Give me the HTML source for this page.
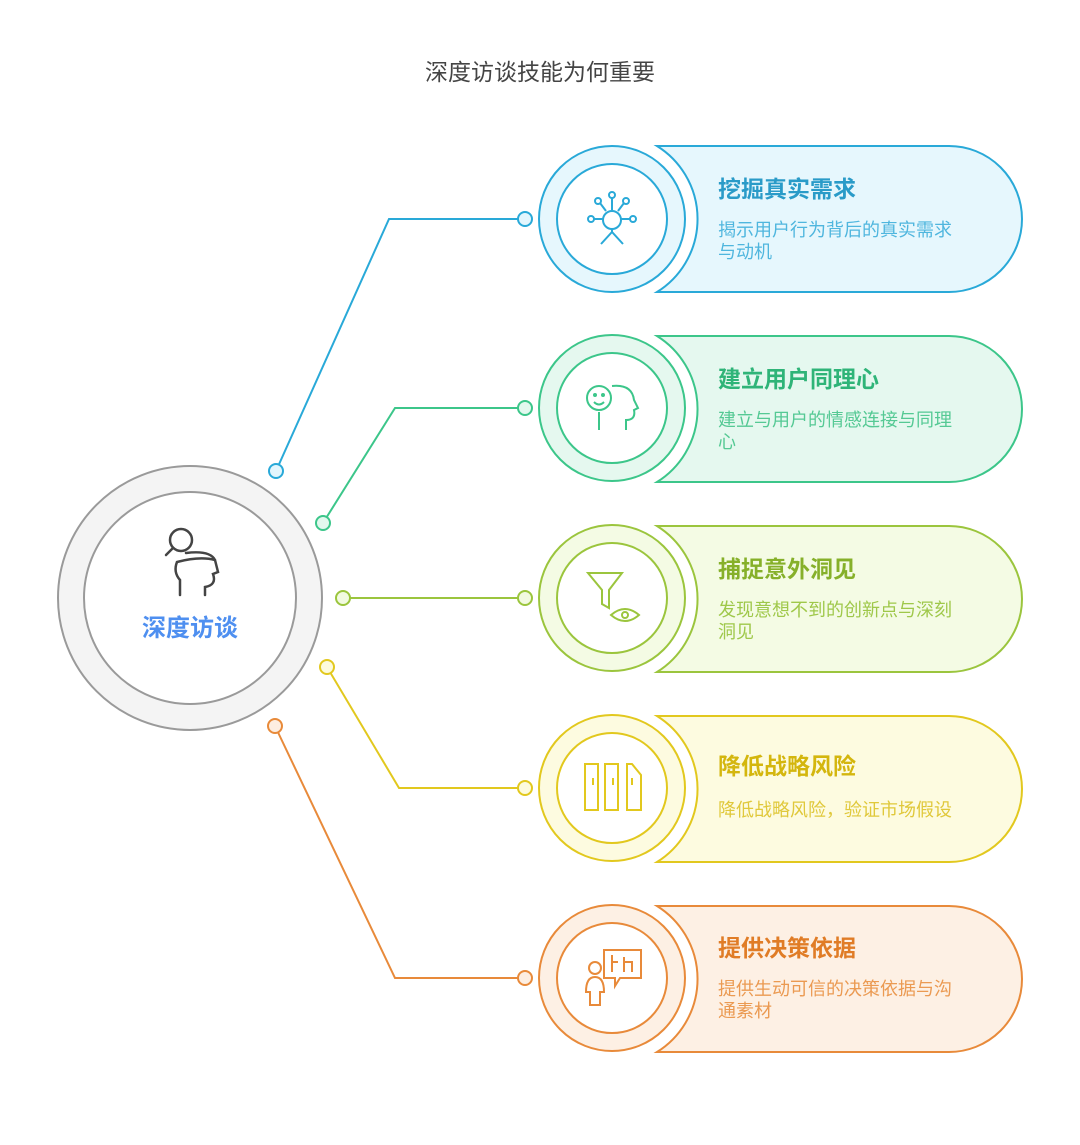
<!DOCTYPE html>
<html><head><meta charset="utf-8"><style>
body{margin:0;background:#fff}
svg{display:block}
text{font-family:"Liberation Sans","Noto Sans CJK SC",sans-serif}
</style></head><body>
<svg width="1080" height="1145" viewBox="0 0 1080 1145" xmlns="http://www.w3.org/2000/svg">
<text x="540" y="80" text-anchor="middle" font-size="23" fill="#444">深度访谈技能为何重要</text>

<g fill="none" stroke-width="2">
<polyline points="276,471 389,219 525,219" stroke="#29a9d8"/>
<polyline points="323,523 395,408 525,408" stroke="#3cc68a"/>
<polyline points="343,598 525,598" stroke="#9bc53d"/>
<polyline points="327,667 399,788 525,788" stroke="#e2c81e"/>
<polyline points="275,726 395,978 525,978" stroke="#e88a3a"/>
</g>
<g stroke-width="2">
<circle cx="276" cy="471" r="7" fill="#e3f6fd" stroke="#29a9d8"/><circle cx="525" cy="219" r="7" fill="#e3f6fd" stroke="#29a9d8"/>
<circle cx="323" cy="523" r="7" fill="#e2f8ee" stroke="#3cc68a"/><circle cx="525" cy="408" r="7" fill="#e2f8ee" stroke="#3cc68a"/>
<circle cx="343" cy="598" r="7" fill="#f2fae0" stroke="#9bc53d"/><circle cx="525" cy="598" r="7" fill="#f2fae0" stroke="#9bc53d"/>
<circle cx="327" cy="667" r="7" fill="#fdfbdc" stroke="#e2c81e"/><circle cx="525" cy="788" r="7" fill="#fdfbdc" stroke="#e2c81e"/>
<circle cx="275" cy="726" r="7" fill="#fdeee1" stroke="#e88a3a"/><circle cx="525" cy="978" r="7" fill="#fdeee1" stroke="#e88a3a"/>
</g>

<circle cx="190" cy="598" r="132" fill="#f4f4f4" stroke="#9a9a9a" stroke-width="2"/>
<circle cx="190" cy="598" r="106" fill="#fff" stroke="#9a9a9a" stroke-width="2"/>
<g fill="none" stroke="#444" stroke-width="2.5" stroke-linecap="round">
<circle cx="181" cy="540" r="11"/>
<line x1="173" y1="548" x2="166" y2="555"/>
<path d="M177 562 Q173 572 180 580 L180 595 M186 553 Q210 550 215 560 L218 572 L213 574 Q217 585 205 587 L205 595 M177 562 Q200 556 215 560"/>
</g>
<text x="190" y="636" text-anchor="middle" font-size="24" font-weight="bold" fill="#4e8ff0">深度访谈</text>

<g>
<path d="M657 146 L949 146 A73 73 0 0 1 949 292 L657 292 A86 86 0 0 0 657 146 Z" fill="#e6f7fd" stroke="#29a9d8" stroke-width="2"/>
<circle cx="612" cy="219" r="73" fill="#e6f7fd" stroke="#29a9d8" stroke-width="2"/>
<circle cx="612" cy="219" r="55" fill="#fff" stroke="#29a9d8" stroke-width="2"/>
<g fill="none" stroke="#29a9d8" stroke-width="2"><circle cx="612" cy="220" r="9"/><path d="M601 244 L612 232 L623 244 M612 232 V229"/><circle cx="612" cy="195" r="3"/><line x1="612" y1="198" x2="612" y2="210"/><circle cx="598" cy="201" r="3"/><line x1="600" y1="203" x2="606" y2="211"/><circle cx="626" cy="201" r="3"/><line x1="624" y1="203" x2="618" y2="211"/><circle cx="591" cy="219" r="3"/><line x1="594" y1="219" x2="603" y2="219"/><circle cx="633" cy="219" r="3"/><line x1="630" y1="219" x2="621" y2="219"/></g>
<text x="718" y="197" font-size="23" font-weight="bold" fill="#2a9bc8">挖掘真实需求</text>
<text x="718" y="236" font-size="18" fill="#4fb6de">揭示用户行为背后的真实需求</text>
<text x="718" y="258" font-size="18" fill="#4fb6de">与动机</text>
</g>
<g>
<path d="M657 336 L949 336 A73 73 0 0 1 949 482 L657 482 A86 86 0 0 0 657 336 Z" fill="#e5f8ef" stroke="#3cc68a" stroke-width="2"/>
<circle cx="612" cy="408" r="73" fill="#e5f8ef" stroke="#3cc68a" stroke-width="2"/>
<circle cx="612" cy="408" r="55" fill="#fff" stroke="#3cc68a" stroke-width="2"/>
<g fill="none" stroke="#3cc68a" stroke-width="2"><circle cx="599" cy="398" r="12"/><path d="M594 402 Q599 407 604 402"/><circle cx="595" cy="395" r="1"/><circle cx="603" cy="395" r="1"/><path d="M599 412 V430 M612 386 Q632 384 634 400 L638 408 L634 410 Q636 420 626 420 V430"/></g>
<text x="718" y="387" font-size="23" font-weight="bold" fill="#2fb478">建立用户同理心</text>
<text x="718" y="426" font-size="18" fill="#55c994">建立与用户的情感连接与同理</text>
<text x="718" y="448" font-size="18" fill="#55c994">心</text>
</g>
<g>
<path d="M657 526 L949 526 A73 73 0 0 1 949 672 L657 672 A86 86 0 0 0 657 526 Z" fill="#f4fbe4" stroke="#9bc53d" stroke-width="2"/>
<circle cx="612" cy="598" r="73" fill="#f4fbe4" stroke="#9bc53d" stroke-width="2"/>
<circle cx="612" cy="598" r="55" fill="#fff" stroke="#9bc53d" stroke-width="2"/>
<g fill="none" stroke="#9bc53d" stroke-width="2"><path d="M588 573 H622 L609 590 V608 L602 604 V590 Z"/><path d="M611 615 Q625 603 639 615 Q625 627 611 615 Z"/><circle cx="625" cy="615" r="3"/></g>
<text x="718" y="577" font-size="23" font-weight="bold" fill="#86b02a">捕捉意外洞见</text>
<text x="718" y="616" font-size="18" fill="#9fc84a">发现意想不到的创新点与深刻</text>
<text x="718" y="638" font-size="18" fill="#9fc84a">洞见</text>
</g>
<g>
<path d="M657 716 L949 716 A73 73 0 0 1 949 862 L657 862 A86 86 0 0 0 657 716 Z" fill="#fdfbe0" stroke="#e2c81e" stroke-width="2"/>
<circle cx="612" cy="788" r="73" fill="#fdfbe0" stroke="#e2c81e" stroke-width="2"/>
<circle cx="612" cy="788" r="55" fill="#fff" stroke="#e2c81e" stroke-width="2"/>
<g fill="none" stroke="#e2c81e" stroke-width="2"><rect x="585" y="764" width="13" height="46"/><rect x="605" y="764" width="13" height="46"/><path d="M627 764 H632 L641 775 V810 H627 Z"/><path d="M593 778 V785 M613 778 V785 M632 778 V785"/></g>
<text x="718" y="774" font-size="23" font-weight="bold" fill="#d4b60e">降低战略风险</text>
<text x="718" y="816" font-size="18" fill="#e0c83a">降低战略风险，验证市场假设</text>
</g>
<g>
<path d="M657 906 L949 906 A73 73 0 0 1 949 1052 L657 1052 A86 86 0 0 0 657 906 Z" fill="#fdf0e4" stroke="#e88a3a" stroke-width="2"/>
<circle cx="612" cy="978" r="73" fill="#fdf0e4" stroke="#e88a3a" stroke-width="2"/>
<circle cx="612" cy="978" r="55" fill="#fff" stroke="#e88a3a" stroke-width="2"/>
<g fill="none" stroke="#e88a3a" stroke-width="2"><circle cx="595" cy="968" r="6"/><path d="M586 992 Q586 977 595 977 Q604 977 604 992 H600 V1005 H590 V992 Z"/><path d="M604 950 H641 V978 H620 L615 986 V978 H604 Z"/><path d="M612 955 V972 M612 962 H618 M624 957 V972 M624 962 H632 V972"/></g>
<text x="718" y="956" font-size="23" font-weight="bold" fill="#e07c26">提供决策依据</text>
<text x="718" y="995" font-size="18" fill="#eb9a52">提供生动可信的决策依据与沟</text>
<text x="718" y="1017" font-size="18" fill="#eb9a52">通素材</text>
</g>
</svg>
</body></html>
